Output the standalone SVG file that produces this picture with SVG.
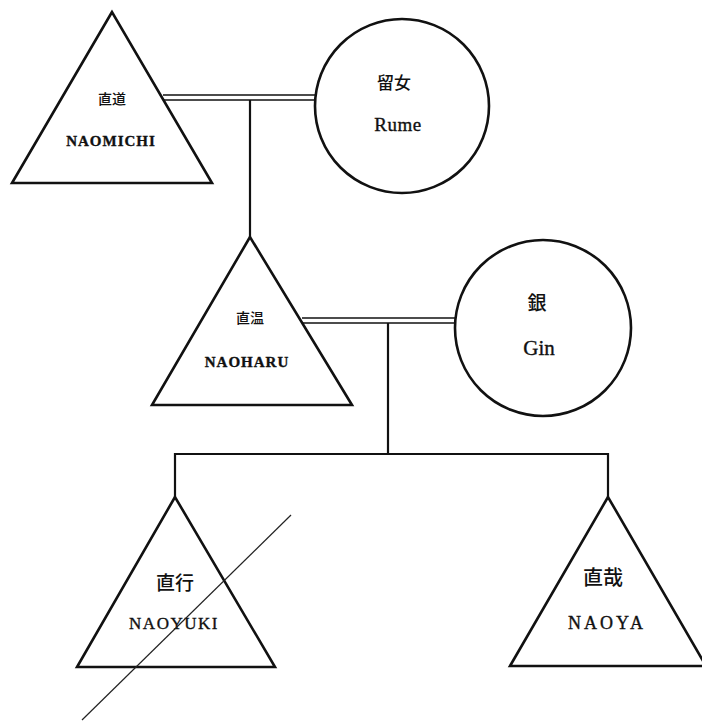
<svg xmlns="http://www.w3.org/2000/svg" width="702" height="723" viewBox="0 0 702 723">
  <style>
    .male { fill: #fff; stroke: #111; stroke-width: 2.6; stroke-linejoin: miter; }
    .female { fill: #fff; stroke: #111; stroke-width: 2.6; }
    .line { fill: none; stroke: #111; stroke-width: 2.2; }
    .marry { fill: none; stroke: #111; stroke-width: 1.7; }
    .cross { fill: none; stroke: #222; stroke-width: 1.2; }
    .jp { font-family: "Noto Sans CJK JP", "Noto Sans CJK SC", sans-serif; fill: #111; text-anchor: middle; font-weight: 500; }
    .en { font-family: "Liberation Serif", "DejaVu Serif", serif; fill: #111; text-anchor: middle; stroke: #111; stroke-width: 0.35; }
  </style>
  <rect width="702" height="723" fill="#fff"/>

  <!-- connectors: marriage double lines and descent lines -->
  <g id="connectors">
    <line class="marry" x1="163" y1="95" x2="316" y2="95"/>
    <line class="marry" x1="163" y1="100" x2="316" y2="100"/>
    <line class="line" x1="250" y1="100" x2="250" y2="237"/>
    <line class="marry" x1="302" y1="318" x2="456" y2="318"/>
    <line class="marry" x1="302" y1="323" x2="456" y2="323"/>
    <line class="line" x1="388" y1="323" x2="388" y2="454"/>
    <polyline class="line" points="175,497 175,454 608,454 608,497"/>
  </g>

  <g id="naomichi">
    <polygon class="male" points="112,12 12,183 212,183"/>
    <text class="jp" x="112" y="104" font-size="14" font-weight="bold">直道</text>
    <text class="en" x="111" y="146" font-size="15" font-weight="bold" letter-spacing="1">NAOMICHI</text>
  </g>

  <g id="rume">
    <circle class="female" cx="402" cy="106" r="87"/>
    <text class="jp" x="394" y="89" font-size="17">留女</text>
    <text class="en" x="398" y="131" font-size="19" letter-spacing="0.5">Rume</text>
  </g>

  <g id="naoharu">
    <polygon class="male" points="250,237 152,405 352,405"/>
    <text class="jp" x="250" y="323" font-size="14" font-weight="bold">直温</text>
    <text class="en" x="247" y="367" font-size="15" font-weight="bold" letter-spacing="1">NAOHARU</text>
  </g>

  <g id="gin">
    <circle class="female" cx="543" cy="328" r="88"/>
    <text class="jp" x="537" y="310" font-size="19">銀</text>
    <text class="en" x="539" y="355" font-size="21">Gin</text>
  </g>

  <g id="naoyuki">
    <polygon class="male" points="175,497 77,667 275,667"/>
    <text class="jp" x="175" y="590" font-size="19">直行</text>
    <text class="en" x="174" y="629" font-size="17" letter-spacing="1.5">NAOYUKI</text>
  </g>

  <g id="naoya">
    <polygon class="male" points="608,497 510,666 706,666"/>
    <text class="jp" x="603" y="585" font-size="20">直哉</text>
    <text class="en" x="607" y="629" font-size="18" letter-spacing="3">NAOYA</text>
  </g>

  <!-- strike-through across Naoyuki -->
  <line class="cross" x1="291" y1="515" x2="82" y2="720"/>
</svg>
